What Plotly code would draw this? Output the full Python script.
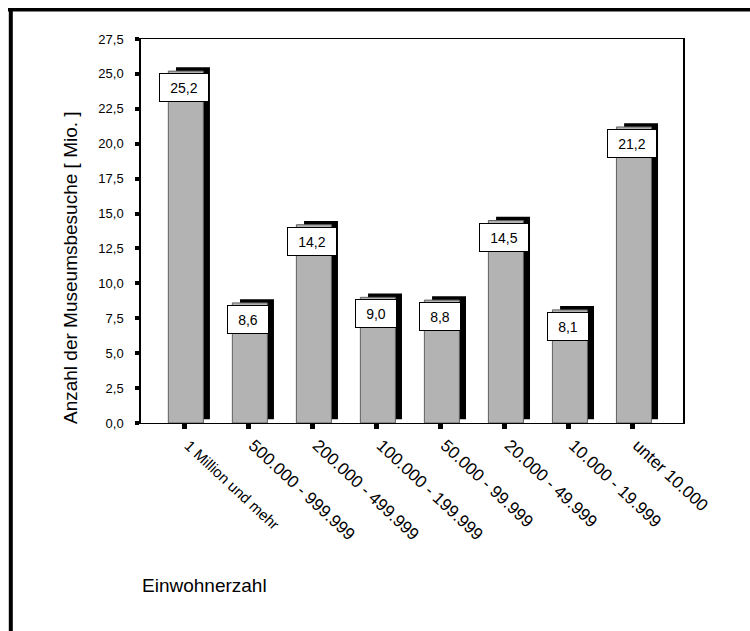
import plotly.graph_objects as go

categories = ["1 Million und mehr", "500.000 - 999.999", "200.000 - 499.999",
              "100.000 - 199.999", "50.000 - 99.999", "20.000 - 49.999",
              "10.000 - 19.999", "unter 10.000"]
values = [25.2, 8.6, 14.2, 9.0, 8.8, 14.5, 8.1, 21.2]
value_labels = ["25,2", "8,6", "14,2", "9,0", "8,8", "14,5", "8,1", "21,2"]
y_ticks = [0, 2.5, 5, 7.5, 10, 12.5, 15, 17.5, 20, 22.5, 25, 27.5]
y_tick_text = ["0,0", "2,5", "5,0", "7,5", "10,0", "12,5", "15,0", "17,5",
               "20,0", "22,5", "25,0", "27,5"]
y_title = "Anzahl der Museumsbesuche [ Mio. ]"
x_title = "Einwohnerzahl"

W, H = 750, 631
L, R, T, B = 141, 683, 39, 423
FONT = "Liberation Sans, Arial, Helvetica, sans-serif"


def px(x):
    return (x - L) / (R - L)


def py(y):
    return (B - y) / (B - T)


x_tick_text = ['<span style="font-size:15px">' + categories[0] + '</span>'] + categories[1:]

fig = go.Figure()
# shadow
fig.add_trace(go.Bar(
    x=categories, y=values, base=0.27, width=0.53, offset=-0.13,
    marker=dict(color="black", line=dict(width=0)), hoverinfo="skip",
    showlegend=False))
# main bars
fig.add_trace(go.Bar(
    x=categories, y=values, width=0.547, offset=-0.25,
    marker=dict(color="#b3b3b3", line=dict(color="#606060", width=1)),
    showlegend=False))

for c, v, t in zip(categories, values, value_labels):
    fig.add_annotation(
        x=c, y=v, xref="x", yref="y", text=t, showarrow=False,
        xanchor="center", yanchor="top", yshift=-2,
        width=8 * len(t) + 16, height=27, borderpad=0, borderwidth=1,
        bordercolor="black", bgcolor="white",
        font=dict(family=FONT, size=14, color="black"))

fig.add_annotation(
    x=px(70), y=py(268), xref="paper", yref="paper", text=y_title,
    textangle=-90, showarrow=False, xanchor="center", yanchor="middle",
    font=dict(family=FONT, size=19, color="black"))
fig.add_annotation(
    x=px(140), y=py(585), xref="paper", yref="paper", text=x_title,
    showarrow=False, xanchor="left", yanchor="middle",
    font=dict(family=FONT, size=19, color="black"))

# outer frame (top and left edges)
fig.add_shape(type="line", xref="paper", yref="paper",
              x0=px(8), x1=px(760), y0=py(9.8), y1=py(9.8),
              line=dict(color="black", width=3.5))
fig.add_shape(type="line", xref="paper", yref="paper",
              x0=px(10.8), x1=px(10.8), y0=py(8), y1=py(640),
              line=dict(color="black", width=4))

fig.update_layout(
    width=W, height=H, barmode="overlay",
    margin=dict(l=L, r=W - R, t=T, b=H - B, pad=0),
    paper_bgcolor="white", plot_bgcolor="white",
    font=dict(family=FONT, color="black"),
    xaxis=dict(
        type="category", range=[-0.677, 7.79], tickmode="array",
        tickvals=categories, ticktext=x_tick_text, tickangle=43,
        ticks="outside", ticklen=5, tickwidth=5, tickcolor="black",
        ticklabelshift=5,
        showline=True, linecolor="black", linewidth=1, mirror=True,
        showgrid=False, zeroline=False, automargin=False,
        tickfont=dict(family=FONT, size=17, color="black")),
    yaxis=dict(
        range=[0, 27.5], tickmode="array", tickvals=y_ticks,
        ticktext=y_tick_text, ticks="outside", ticklen=4, tickwidth=4,
        tickcolor="black", showline=True, linecolor="black", linewidth=1.5,
        mirror=True, showgrid=False, zeroline=False, automargin=False,
        ticklabelstandoff=9,
        tickfont=dict(family=FONT, size=13, color="black")),
)

fig.write_html("out.html", config={"displayModeBar": False},
               post_script="document.body.style.margin='0';document.body.style.overflow='hidden';")
